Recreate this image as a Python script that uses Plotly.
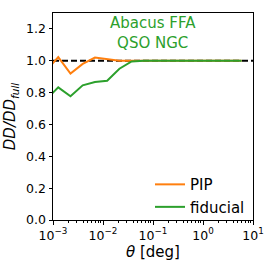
import plotly.graph_objects as go

theta = [0.000726, 0.001274, 0.002239, 0.003926, 0.006902, 0.01211, 0.02128,
         0.03733, 0.06561, 0.1151, 0.2023, 0.3548, 0.6237, 1.094, 1.923, 3.373, 5.929]
pip = [0.937, 1.023, 0.92, 0.98, 1.02, 1.01, 1.0, 1.0, 1.0, 1.0, 1.0, 1.0, 1.0,
       1.0, 1.0, 1.0, 1.0]
fiducial = [0.756, 0.833, 0.777, 0.846, 0.867, 0.875, 0.95, 0.996, 1.0, 1.0, 1.0,
            1.0, 1.0, 1.0, 1.0, 1.0, 1.0]
series_names = ["PIP", "fiducial"]
series_colors = ["#ff7f0e", "#2ca02c"]
x_tickvals = [0.001, 0.01, 0.1, 1, 10]
x_ticktext = ["10<sup>−3</sup>", "10<sup>−2</sup>", "10<sup>−1</sup>", "10<sup>0</sup>", "10<sup>1</sup>"]
y_tickvals = [0.0, 0.2, 0.4, 0.6, 0.8, 1.0, 1.2]
reference_level = 1.0
title_text = "Abacus FFA<br>QSO NGC"

FONT = "DejaVu Sans"

fig = go.Figure()
for name, vals, col in zip(series_names, [pip, fiducial], series_colors):
    fig.add_trace(go.Scatter(x=theta, y=vals, mode="lines", name=name,
                             line=dict(color=col, width=2), cliponaxis=True))

fig.add_shape(type="line", xref="paper", yref="y", x0=0, x1=1,
              y0=reference_level, y1=reference_level, layer="below",
              line=dict(color="black", width=2, dash="6px,3px"))

fig.add_annotation(text=title_text, xref="paper", yref="paper", x=0.5, y=0.905,
                   xanchor="center", yanchor="middle", showarrow=False,
                   font=dict(family=FONT, size=15, color="#2ca02c"))

axis_common = dict(showline=True, linecolor="black", linewidth=1, mirror=True,
                   ticks="outside", ticklen=3.5, tickcolor="black", tickwidth=1,
                   showgrid=False, zeroline=False, automargin=False,
                   tickfont=dict(family=FONT, size=12.5, color="black"))

fig.update_xaxes(type="log", range=[-3, 1], tickvals=x_tickvals, ticktext=x_ticktext,
                 minor=dict(ticks="outside", ticklen=2, tickcolor="black",
                            dtick="D1", showgrid=False),
                 title=dict(text="<i>θ</i> [deg]", font=dict(family=FONT, size=15, color="black"),
                            standoff=4),
                 **axis_common)
fig.update_yaxes(range=[0, 1.3], tickvals=y_tickvals, tickformat=".1f",
                 title=dict(text="<i>DD/DD<sub>full</sub></i>",
                            font=dict(family=FONT, size=15, color="black"), standoff=6),
                 **axis_common)

fig.update_layout(width=266, height=266, margin=dict(l=53, r=13, t=13, b=46),
                  paper_bgcolor="white", plot_bgcolor="white",
                  legend=dict(x=0.485, y=-0.015, xanchor="left", yanchor="bottom",
                              bgcolor="rgba(0,0,0,0)", borderwidth=0,
                              font=dict(family=FONT, size=15, color="black"),
                              tracegroupgap=0))

fig.write_html("out.html", config={"displayModeBar": False},
               post_script="document.body.style.margin='0';")
